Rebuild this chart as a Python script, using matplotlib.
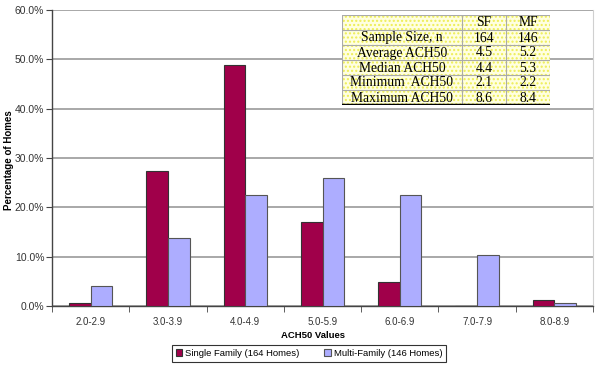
import matplotlib
matplotlib.use("Agg")
import matplotlib.pyplot as plt
import numpy as np

categories = ["2.0-2.9", "3.0-3.9", "4.0-4.9", "5.0-5.9", "6.0-6.9", "7.0-7.9", "8.0-8.9"]
single_family = [0.6, 27.4, 48.8, 17.1, 4.9, 0.0, 1.2]
multi_family = [4.1, 13.7, 22.6, 26.0, 22.6, 10.3, 0.7]
series_labels = ["Single Family (164 Homes)", "Multi-Family (146 Homes)"]

table_header = ["", "SF", "MF"]
table_rows = [
    ["Sample Size, n", "164", "146"],
    ["Average ACH50", "4.5", "5.2"],
    ["Median ACH50", "4.4", "5.3"],
    ["Minimum  ACH50", "2.1", "2.2"],
    ["Maximum ACH50", "8.6", "8.4"],
]

W, H = 601, 384
plt.rcParams["font.family"] = ["Liberation Sans", "DejaVu Sans"]
fig = plt.figure(figsize=(W / 100, H / 100), dpi=100)

# plot area in pixels
left, right, top, bottom = 52, 593, 10, 306
ax = fig.add_axes([left / W, 1 - bottom / H, (right - left) / W, (bottom - top) / H])

x = np.arange(len(categories))
bw = 0.28
ax.bar(x - bw / 2, single_family, bw, color="#A0004A", edgecolor="#333333",
       linewidth=0.8, label=series_labels[0], zorder=3)
ax.bar(x + bw / 2, multi_family, bw, color="#ADADFF", edgecolor="#555555",
       linewidth=0.8, label=series_labels[1], zorder=3)

ax.set_xlim(-0.5, len(categories) - 0.5)
ax.set_ylim(0, 60)
ax.set_yticks(np.arange(0, 61, 10))
ax.set_yticklabels([f"{v:.1f}%" for v in np.arange(0, 61, 10)], fontsize=7.5, color="#333333")
ax.yaxis.grid(True, color="#999999", linewidth=1.2, zorder=0)

ax.set_xticks(x)
ax.set_xticklabels(categories, fontsize=7, color="#333333")
ax.set_xticks(np.arange(-0.5, len(categories)), minor=True)
ax.tick_params(axis="x", which="major", length=0, pad=8)
ax.tick_params(axis="x", which="minor", length=4, direction="out", color="#444444")
ax.tick_params(axis="y", length=4, direction="out", color="#444444", pad=1.5)

ax.spines["top"].set_visible(False)
ax.spines["right"].set_color("#D0D0D0")
for side in ["left", "bottom"]:
    ax.spines[side].set_color("#444444")
    ax.spines[side].set_linewidth(1.0)

fig.text(313 / W, 1 - 335 / H, "ACH50 Values", fontsize=6.8, fontweight="bold",
         ha="center", va="center")
fig.text(9 / W, 1 - 160 / H, "Percentage of Homes", rotation=90, fontsize=7,
         fontweight="bold", ha="center", va="center")

leg = fig.legend(loc="center", bbox_to_anchor=(309 / W, 1 - 353.5 / H), ncol=2,
                 fontsize=6.8, frameon=True, fancybox=False, handlelength=0.7,
                 handleheight=0.7, handletextpad=0.3, columnspacing=2.6,
                 borderpad=0.4, edgecolor="black")
leg.get_frame().set_linewidth(0.8)

# summary table drawn over the plot
tl, tr, tt, tb = 342, 550, 15, 105
col_edges = [342, 462, 506, 550]
n_rows = len(table_rows) + 1
row_h = (tb - tt) / n_rows
tax = fig.add_axes([tl / W, 1 - tb / H, (tr - tl) / W, (tb - tt) / H])
tax.set_xlim(tl, tr)
tax.set_ylim(tb, tt)
tax.axis("off")
bg = plt.Rectangle((tl, tt), tr - tl, tb - tt, facecolor="#FFFFE0",
                   edgecolor="#EEEE55", hatch="....", linewidth=0, zorder=0)
tax.add_patch(bg)
for r in range(n_rows + 1):
    yy = tt + r * row_h
    tax.plot([tl, tr], [yy, yy], color="#AAAAAA", linewidth=0.8, zorder=2)
for xe in col_edges:
    tax.plot([xe, xe], [tt, tb], color="#AAAAAA", linewidth=0.8, zorder=2)
tax.plot([tl, tr], [tb, tb], color="black", linewidth=2.5, zorder=3)

all_rows = [table_header] + table_rows
for r, row in enumerate(all_rows):
    yc = tt + (r + 0.5) * row_h
    for c, txt in enumerate(row):
        xc = (col_edges[c] + col_edges[c + 1]) / 2
        tax.text(xc, yc + 0.5, txt, ha="center", va="center", fontsize=9.8,
                 family=["Liberation Serif", "DejaVu Serif"], zorder=4)

fig.savefig("out.png", dpi=100)
